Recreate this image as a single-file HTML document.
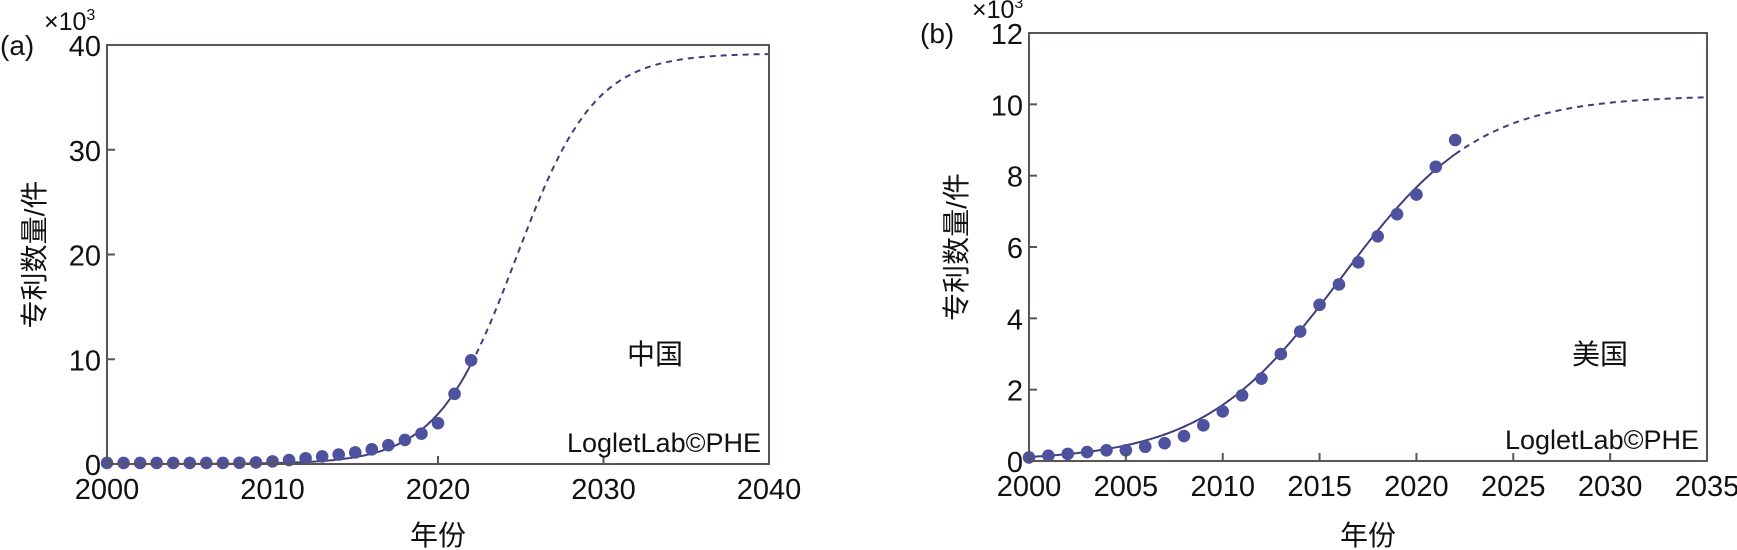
<!DOCTYPE html>
<html><head><meta charset="utf-8"><style>
html,body{margin:0;padding:0;background:#fff;}
svg{display:block;font-family:"Liberation Sans","Noto Sans CJK SC",sans-serif;}
</style></head><body>
<svg id="chart" width="1737" height="550" viewBox="0 0 1737 550" xmlns="http://www.w3.org/2000/svg"></svg>
<script>
const years = [2000,2001,2002,2003,2004,2005,2006,2007,2008,2009,2010,2011,2012,2013,2014,2015,2016,2017,2018,2019,2020,2021,2022];
const chinaValues = [0.1,0.1,0.1,0.1,0.1,0.1,0.1,0.1,0.12,0.15,0.25,0.38,0.55,0.72,0.9,1.1,1.4,1.8,2.3,2.9,3.9,6.7,9.9];
const usValues = [0.1,0.15,0.2,0.25,0.3,0.3,0.4,0.5,0.7,1.0,1.39,1.84,2.31,3.0,3.63,4.38,4.95,5.57,6.3,6.92,7.47,8.25,9.0];
const chinaFit = [39.2, 2024.7, 0.42];
const usFit = [10.25, 2016.1, 0.28];
const chinaXTicks = [2000,2010,2020,2030,2040];
const chinaYTicks = [0,10,20,30,40];
const usXTicks = [2000,2005,2010,2015,2020,2025,2030,2035];
const usYTicks = [0,2,4,6,8,10,12];

const NS="http://www.w3.org/2000/svg";
const svg=document.getElementById('chart');
function mk(tag,attrs,parent){const e=document.createElementNS(NS,tag);for(const k in attrs)e.setAttribute(k,attrs[k]);(parent||svg).appendChild(e);return e;}
function txt(s,attrs,parent){const e=mk('text',attrs,parent);e.textContent=s;return e;}

function panel(cfg){
  const g=mk('g',{});
  
  
  const X=v=>cfg.x0+(v-cfg.xmin)/(cfg.xmax-cfg.xmin)*(cfg.x1-cfg.x0);
  const Y=v=>cfg.y1-(v-cfg.ymin)/(cfg.ymax-cfg.ymin)*(cfg.y1-cfg.y0);
  const fit=t=>cfg.fit[0]/(1+Math.exp(-cfg.fit[2]*(t-cfg.fit[1])));
  let solid='',dash='';
  const last=cfg.years[cfg.years.length-1];
  for(let t=cfg.xmin;t<=last+1e-9;t+=0.1){solid+=(solid?'L':'M')+X(t).toFixed(1)+','+Y(fit(t)).toFixed(1);}
  for(let t=last;t<=cfg.xmax+1e-9;t+=0.1){dash+=(dash?'L':'M')+X(t).toFixed(1)+','+Y(fit(t)).toFixed(1);}
  const c1=mk('path',{d:solid,fill:'none',stroke:'#3d3f7a','stroke-width':2},g);
  
  
  const c2=mk('path',{d:dash,fill:'none',stroke:'#3d3f7a','stroke-width':2,'stroke-dasharray':'6,5'},g);
  
  
  cfg.years.forEach((yr,i)=>{
    const p=mk('circle',{cx:X(yr),cy:Y(cfg.values[i]),r:6.3,fill:'#4e519e'},g);
    
    
  });
  const box=mk('rect',{x:cfg.x0,y:cfg.y0,width:cfg.x1-cfg.x0,height:cfg.y1-cfg.y0,fill:'none',stroke:'#5a5552','stroke-width':2},g);
  
  
  cfg.xticks.forEach(v=>{
    const l=mk('line',{x1:X(v),x2:X(v),y1:cfg.y1,y2:cfg.y1-8,stroke:'#5a5552','stroke-width':2},g);
    
    
    const t=txt(String(v),{x:X(v),y:cfg.y1+35,'font-size':29,'text-anchor':'middle',fill:'#111'},g);
    
    
  });
  cfg.yticks.forEach(v=>{
    const l=mk('line',{x1:cfg.x0,x2:cfg.x0+8,y1:Y(v),y2:Y(v),stroke:'#5a5552','stroke-width':2},g);
    
    
    const t=txt(String(v),{x:cfg.x0-6,y:Y(v)+11,'font-size':29,'text-anchor':'end',fill:'#111'},g);
    
    
  });
  const pl=txt(cfg.label,{x:cfg.labelX,y:cfg.y0+10,'font-size':28,fill:'#111'},g);
  
  
  const mult=txt('×10',{x:cfg.multX,y:cfg.y0-15,'font-size':25,fill:'#111'},g);
  const sup=mk('tspan',{dy:-10,'font-size':16},mult);sup.textContent='3';
  
  
  const yt=txt('专利数量/件',{x:0,y:0,'font-size':28,'text-anchor':'middle',fill:'#111',transform:`translate(${cfg.ytitleX},${(cfg.y0+cfg.y1)/2}) rotate(-90)`},g);
  
  
  const xt=txt('年份',{x:(cfg.x0+cfg.x1)/2,y:545,'font-size':28,'text-anchor':'middle',fill:'#111'},g);
  
  
  const ct=txt(cfg.country,{x:cfg.countryX,y:364,'font-size':28,'text-anchor':'middle',fill:'#111'},g);
  
  
  const wm=txt('LogletLab©PHE',{x:cfg.x1-8,y:cfg.y1-12,'font-size':27,'text-anchor':'end',fill:'#111'},g);
  
  
}
panel({name:'china-chart',x0:107,x1:769,y0:45,y1:464,xmin:2000,xmax:2040,ymin:0,ymax:40,years:years,values:chinaValues,fit:chinaFit,xticks:chinaXTicks,yticks:chinaYTicks,label:'(a)',labelX:0,multX:44,ytitleX:44,country:'中国',countryX:655});
panel({name:'us-chart',x0:1029,x1:1707,y0:33,y1:461,xmin:2000,xmax:2035,ymin:0,ymax:12,years:years,values:usValues,fit:usFit,xticks:usXTicks,yticks:usYTicks,label:'(b)',labelX:920,multX:972,ytitleX:966,country:'美国',countryX:1600});
</script>
</body></html>
